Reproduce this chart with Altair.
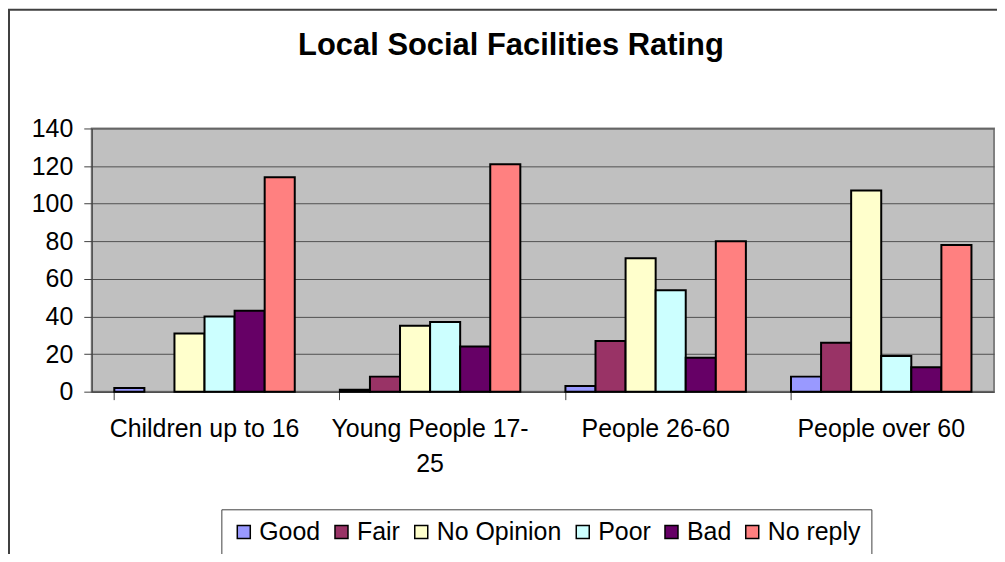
import altair as alt
import pandas as pd

categories = ["Children up to 16", "Young People 17-25", "People 26-60", "People over 60"]
series = ["Good", "Fair", "No Opinion", "Poor", "Bad", "No reply"]
good = [2, 1, 3, 8]
fair = [0, 8, 27, 26]
no_opinion = [31, 35, 71, 107]
poor = [40, 37, 54, 19]
bad = [43, 24, 18, 13]
no_reply = [114, 121, 80, 78]
colors = ["#9999FF", "#993366", "#FFFFCC", "#CCFFFF", "#660066", "#FF8080"]
y_ticks = [0, 20, 40, 60, 80, 100, 120, 140]

values = [good, fair, no_opinion, poor, bad, no_reply]
rows = []
for s, vals in zip(series, values):
    for c, v in zip(categories, vals):
        rows.append({"category": c, "series": s, "value": v})
df = pd.DataFrame(rows)

FONT = "Liberation Sans"

bars = alt.Chart(df).transform_filter("datum.value > 0").mark_bar(
    stroke="black", strokeWidth=2
).encode(
    x=alt.X("category:N", sort=categories,
            scale=alt.Scale(paddingInner=0.2, paddingOuter=0.1),
            axis=alt.Axis(title=None, labelAngle=0, labelFontSize=25, labelFont=FONT,
                          labelColor="black", bandPosition=0, tickSize=8,
                          tickColor="#404040", domainColor="#404040", labelPadding=17,
                          labelLineHeight=35, labelLimit=300,
                          labelExpr="datum.value == 'Young People 17-25' ? ['Young People 17-', '25'] : datum.value")),
    xOffset=alt.XOffset("series:N", sort=series,
                        scale=alt.Scale(paddingInner=0, paddingOuter=0)),
    y=alt.Y("value:Q", scale=alt.Scale(domain=[0, 140], nice=False),
            axis=alt.Axis(title=None, values=y_ticks, labelFontSize=25, labelFont=FONT,
                          labelColor="black", tickSize=8, tickColor="#404040",
                          domainColor="#404040", gridColor="#505050", gridWidth=1,
                          labelPadding=11)),
    color=alt.Color("series:N", sort=series,
                    scale=alt.Scale(domain=series, range=colors),
                    legend=alt.Legend(title=None, orient="none", direction="horizontal",
                                      columns=6, legendX=130, legendY=382,
                                      labelFontSize=25, labelFont=FONT, labelColor="black",
                                      symbolType="square", symbolSize=170,
                                      symbolStrokeColor="black", symbolStrokeWidth=1.5,
                                      symbolOpacity=1, strokeColor="#404040",
                                      padding=10, columnPadding=8, labelOffset=3,
                                      fillColor="white")),
)

border = alt.Chart(pd.DataFrame({"b": [1]})).mark_rect(
    fill=None, stroke="#404040", strokeWidth=2
).encode(
    x=alt.value(-83), x2=alt.value(1000), y=alt.value(-119), y2=alt.value(700)
)

chart = alt.layer(border, bars).properties(
    width=905, height=264,
    autosize=alt.AutoSizeParams(type="none"),
    padding={"left": 84, "top": 120, "right": 3, "bottom": 162},
    title=alt.TitleParams("Local Social Facilities Rating", fontSize=31, fontWeight="bold",
                          font=FONT, color="black", anchor="middle", dx=-32, offset=0, dy=53),
).configure_view(fill="#C0C0C0", stroke="#808080", strokeWidth=2)

chart.save("out.html", embed_options={"renderer": "svg", "actions": False})
